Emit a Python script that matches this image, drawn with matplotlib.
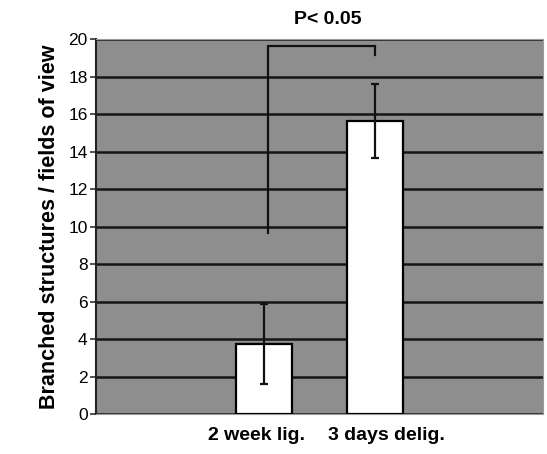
import matplotlib
matplotlib.use("Agg")
import matplotlib.pyplot as plt
import matplotlib.transforms as mtransforms
import numpy as np

plt.rcParams['font.family'] = ['Liberation Sans', 'DejaVu Sans']

# four category slots, the outer two are empty (as in the original Excel chart)
categories = ['', '2 week lig.', '3 days delig.', '']
means = [np.nan, 3.73, 15.64, np.nan]
errors = [np.nan, 2.13, 1.97, np.nan]

y_ticks = [0, 2, 4, 6, 8, 10, 12, 14, 16, 18, 20]
y_label = 'Branched structures / fields of view'

sig_text = 'P< 0.05'
bracket_top = 19.63
bracket_left_bottom = 9.65
bracket_right_bottom = 19.15

fig = plt.figure(figsize=(5.47, 4.54), dpi=100)
ax = fig.add_axes([0.1755, 0.0881, 0.8172, 0.8259])
ax.set_facecolor('#8e8e8e')

x = np.arange(len(categories))
ax.bar(x, means, width=0.5, color='white', edgecolor='black', linewidth=1.6, zorder=3)
ax.errorbar(x, means, yerr=errors, fmt='none', ecolor='#111111', elinewidth=1.6,
            capsize=3, capthick=1.6, zorder=4)

# significance bracket
xl = x[1] + 0.04
xr = x[2]
ax.plot([xl, xl, xr, xr], [bracket_left_bottom, bracket_top, bracket_top, bracket_right_bottom],
        color='#111111', lw=1.6, zorder=5, solid_joinstyle='miter')
ax.text(0.5 * (xl + xr) + 0.05, 20.6, sig_text, ha='center', va='bottom',
        fontsize=14, fontweight='bold')

ax.set_xlim(-0.5, 3.5)
ax.set_ylim(0, 20)
ax.set_yticks(y_ticks)
ax.set_yticklabels([str(v) for v in y_ticks], fontsize=12.5)
ax.yaxis.grid(True, color='#151515', linewidth=1.8, zorder=1)
ax.set_axisbelow(True)
ax.tick_params(axis='y', direction='out', length=4, width=1.2, pad=2, color='#333333')

ax.set_xticks(x)
ax.set_xticklabels(categories, fontsize=14, fontweight='bold')
ax.tick_params(axis='x', length=0, pad=9)
# the labels sit a little apart from the bar centres in the original
shifts = [0, -7, 11, 0]
for lab, dx in zip(ax.get_xticklabels(), shifts):
    lab.set_transform(lab.get_transform() +
                      mtransforms.ScaledTranslation(dx / 100, 0, fig.dpi_scale_trans))

ax.set_ylabel(y_label, fontsize=15.5, fontweight='bold', labelpad=6)

for side in ['top', 'right', 'bottom']:
    ax.spines[side].set_color('#9a9a9a')
    ax.spines[side].set_linewidth(0.8)
ax.spines['left'].set_color('#222222')
ax.spines['left'].set_linewidth(1.5)

fig.savefig('out.png', dpi=100)
